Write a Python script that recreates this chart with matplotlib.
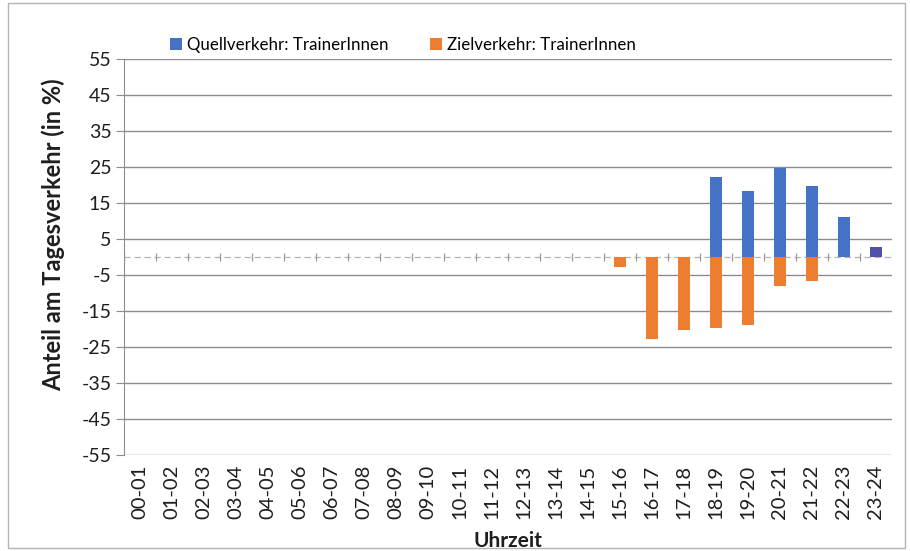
import matplotlib

matplotlib.use("Agg")
import matplotlib.pyplot as plt
import numpy as np
from matplotlib.patches import Rectangle

plt.rcParams["font.family"] = ["Lato", "DejaVu Sans"]

# ---- data ----------------------------------------------------------
hours = [
    "00-01", "01-02", "02-03", "03-04", "04-05", "05-06", "06-07", "07-08",
    "08-09", "09-10", "10-11", "11-12", "12-13", "13-14", "14-15", "15-16",
    "16-17", "17-18", "18-19", "19-20", "20-21", "21-22", "22-23", "23-24",
]
quell = [0, 0, 0, 0, 0, 0, 0, 0, 0, 0, 0, 0, 0, 0, 0, 0,
         0, 0, 22.2, 18.3, 24.8, 19.8, 11.0, 2.9]
ziel = [0, 0, 0, 0, 0, 0, 0, 0, 0, 0, 0, 0, 0, 0, 0, -2.7,
        -22.9, -20.2, -19.8, -18.9, -8.0, -6.8, 0, 0]
y_ticks = [55, 45, 35, 25, 15, 5, -5, -15, -25, -35, -45, -55]

BLUE = "#4472C4"
ORANGE = "#ED7D31"
GRID = "#8c8c8c"
TXT = "#1e1e1e"

fig = plt.figure(figsize=(9.1, 5.51), dpi=100)
ax = fig.add_axes([124 / 910, 1 - 455 / 551, 768 / 910, 396 / 551])

x = np.arange(len(hours))
q_colors = [BLUE] * (len(hours) - 1) + ["#4F52A8"]
ax.bar(x, quell, width=0.4, color=q_colors, zorder=3, label="Quellverkehr: TrainerInnen")
ax.bar(x, ziel, width=0.4, color=ORANGE, zorder=3, label="Zielverkehr: TrainerInnen")

ax.set_xlim(-0.5, len(hours) - 0.5)
ax.set_ylim(-55, 55)
ax.set_yticks(y_ticks)
ax.set_yticklabels([str(v) for v in y_ticks], fontsize=14, color=TXT)
for v in y_ticks:
    ax.axhline(v, color=GRID, lw=1.0, zorder=1)

# zero axis with category boundary ticks
ax.axhline(0, color="#b4b4b4", lw=0.9, ls=(0, (5, 3)), zorder=2)
bounds = np.arange(len(hours) + 1) - 0.5
ax.vlines(bounds, -1.0, 1.0, color="#9a9a9a", lw=0.9, zorder=2)

ax.set_xticks(x)
ax.set_xticklabels(hours, rotation=90, fontsize=14.5, color=TXT)
ax.tick_params(axis="x", length=0, pad=7)
ax.tick_params(axis="y", length=6, color=GRID, pad=3)

for s in ["top", "right", "bottom"]:
    ax.spines[s].set_visible(False)
ax.spines["left"].set_color(GRID)

ax.set_ylabel("Anteil am Tagesverkehr (in %)", fontsize=17, fontweight="bold", color=TXT)
ax.yaxis.set_label_coords(-0.077, 0.556)
fig.text(508 / 910, 1 - 541 / 551, "Uhrzeit", fontsize=15, fontweight="bold",
         ha="center", va="center", color=TXT)

fig.legend(loc="center", bbox_to_anchor=(403 / 910, 1 - 45 / 551), ncol=2,
           frameon=False, fontsize=12.2, handlelength=0.7, handleheight=0.7,
           handletextpad=0.3, columnspacing=2.5)

fig.patches.append(Rectangle((8 / 910, 3 / 551), 897 / 910, 545 / 551,
                             transform=fig.transFigure, fill=False,
                             edgecolor="#b4b4b4", lw=1.0))

fig.savefig("out.png", dpi=100)
